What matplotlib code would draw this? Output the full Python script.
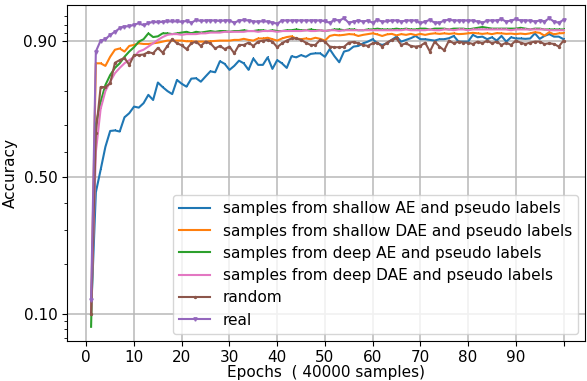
import matplotlib
matplotlib.use("Agg")
import matplotlib.pyplot as plt
import numpy as np
from matplotlib.ticker import FixedLocator, NullFormatter

epochs = list(range(1, 101))

shallow_ae = [
    0.10, 0.44, 0.53, 0.62, 0.678, 0.68, 0.676, 0.724, 0.737, 0.757,
    0.754, 0.767, 0.79, 0.776, 0.821, 0.81, 0.80, 0.792, 0.827, 0.818,
    0.811, 0.83, 0.831, 0.823, 0.835, 0.846, 0.844, 0.866, 0.861, 0.849,
    0.857, 0.867, 0.862, 0.849, 0.871, 0.859, 0.859, 0.873, 0.851, 0.868,
    0.862, 0.853, 0.875, 0.873, 0.877, 0.874, 0.879, 0.880, 0.880, 0.874,
    0.887, 0.875, 0.864, 0.883, 0.885, 0.891, 0.892, 0.896, 0.8985, 0.902,
    0.896, 0.8935, 0.896, 0.901, 0.9056, 0.8985, 0.901, 0.9034, 0.9065, 0.902,
    0.902, 0.901, 0.900, 0.902, 0.902, 0.9034, 0.9065, 0.8985, 0.8985, 0.8985,
    0.908, 0.9047, 0.9056, 0.902, 0.9047, 0.900, 0.9065, 0.8985, 0.9047, 0.903,
    0.903, 0.9025, 0.903, 0.910, 0.9025, 0.9065, 0.909, 0.9056, 0.9056, 0.902,
]

shallow_dae = [
    0.10, 0.862, 0.862, 0.857, 0.874, 0.886, 0.888, 0.883, 0.892, 0.8935,
    0.896, 0.895, 0.895, 0.896, 0.897, 0.8985, 0.900, 0.900, 0.900, 0.900,
    0.899, 0.899, 0.8985, 0.8985, 0.8985, 0.899, 0.8995, 0.900, 0.900, 0.900,
    0.901, 0.901, 0.9025, 0.901, 0.900, 0.903, 0.903, 0.904, 0.902, 0.900,
    0.903, 0.905, 0.906, 0.903, 0.902, 0.903, 0.902, 0.904, 0.9025, 0.900,
    0.9065, 0.908, 0.9073, 0.908, 0.909, 0.9086, 0.9065, 0.908, 0.909, 0.910,
    0.9086, 0.9065, 0.9086, 0.9093, 0.9073, 0.909, 0.908, 0.9093, 0.9077, 0.9093,
    0.908, 0.9093, 0.910, 0.9093, 0.910, 0.9093, 0.910, 0.909, 0.9093, 0.910,
    0.9107, 0.910, 0.9093, 0.910, 0.909, 0.9103, 0.910, 0.9093, 0.9097, 0.909,
    0.9097, 0.909, 0.910, 0.9115, 0.9107, 0.907, 0.9115, 0.9086, 0.910, 0.9103,
]

deep_ae = [
    0.083, 0.70, 0.77, 0.815, 0.838, 0.853, 0.862, 0.874, 0.883, 0.890,
    0.8985, 0.902, 0.910, 0.905, 0.906, 0.910, 0.910, 0.909, 0.910, 0.911,
    0.912, 0.910, 0.912, 0.911, 0.912, 0.913, 0.912, 0.913, 0.913, 0.912,
    0.913, 0.913, 0.914, 0.913, 0.913, 0.914, 0.914, 0.913, 0.914, 0.913,
    0.913, 0.914, 0.914, 0.915, 0.914, 0.914, 0.915, 0.914, 0.914, 0.913,
    0.914, 0.915, 0.915, 0.914, 0.915, 0.915, 0.914, 0.914, 0.915, 0.915,
    0.916, 0.915, 0.915, 0.915, 0.916, 0.915, 0.916, 0.915, 0.915, 0.916,
    0.916, 0.915, 0.916, 0.916, 0.916, 0.915, 0.916, 0.916, 0.916, 0.915,
    0.916, 0.917, 0.918, 0.917, 0.916, 0.916, 0.916, 0.916, 0.916, 0.916,
    0.917, 0.916, 0.915, 0.916, 0.916, 0.915, 0.915, 0.915, 0.915, 0.915,
]

deep_dae = [
    0.10, 0.60, 0.75, 0.80, 0.823, 0.842, 0.853, 0.862, 0.868, 0.874,
    0.883, 0.886, 0.891, 0.896, 0.901, 0.905, 0.908, 0.909, 0.909, 0.908,
    0.909, 0.909, 0.909, 0.910, 0.910, 0.911, 0.911, 0.911, 0.912, 0.912,
    0.912, 0.912, 0.912, 0.913, 0.913, 0.912, 0.913, 0.913, 0.913, 0.912,
    0.913, 0.913, 0.913, 0.913, 0.913, 0.914, 0.913, 0.913, 0.914, 0.913,
    0.914, 0.914, 0.913, 0.914, 0.914, 0.914, 0.914, 0.914, 0.914, 0.914,
    0.914, 0.914, 0.914, 0.914, 0.914, 0.914, 0.915, 0.914, 0.914, 0.914,
    0.914, 0.915, 0.914, 0.914, 0.915, 0.915, 0.914, 0.915, 0.915, 0.914,
    0.915, 0.915, 0.915, 0.915, 0.915, 0.915, 0.915, 0.915, 0.914, 0.915,
    0.915, 0.915, 0.915, 0.915, 0.915, 0.915, 0.914, 0.914, 0.914, 0.914,
]

random_labels = [
    0.10, 0.671, 0.81, 0.81, 0.819, 0.863, 0.868, 0.872, 0.859, 0.877,
    0.877, 0.878, 0.882, 0.88, 0.889, 0.881, 0.892, 0.902, 0.896, 0.893,
    0.887, 0.896, 0.8985, 0.892, 0.8985, 0.896, 0.888, 0.892, 0.887, 0.891,
    0.880, 0.8935, 0.8935, 0.897, 0.892, 0.8985, 0.900, 0.901, 0.8985, 0.890,
    0.896, 0.900, 0.903, 0.903, 0.901, 0.897, 0.8935, 0.8935, 0.901, 0.8985,
    0.891, 0.890, 0.890, 0.8905, 0.897, 0.898, 0.896, 0.8935, 0.892, 0.896,
    0.897, 0.891, 0.897, 0.901, 0.903, 0.8935, 0.896, 0.892, 0.891, 0.892,
    0.897, 0.883, 0.8985, 0.891, 0.885, 0.900, 0.896, 0.8985, 0.897, 0.897,
    0.895, 0.8985, 0.896, 0.900, 0.896, 0.8985, 0.8935, 0.897, 0.8935, 0.900,
    0.897, 0.895, 0.897, 0.8985, 0.8985, 0.895, 0.896, 0.895, 0.891, 0.900,
]

real = [
    0.122, 0.883, 0.900, 0.902, 0.908, 0.912, 0.9165, 0.9185, 0.919, 0.9205,
    0.9225, 0.920, 0.9225, 0.924, 0.9235, 0.924, 0.9245, 0.9245, 0.9245, 0.924,
    0.925, 0.923, 0.926, 0.925, 0.9255, 0.9255, 0.9255, 0.925, 0.9255, 0.9255,
    0.923, 0.9255, 0.926, 0.9255, 0.9243, 0.9243, 0.9247, 0.9243, 0.923, 0.922,
    0.9255, 0.9255, 0.9255, 0.9255, 0.9255, 0.9255, 0.9255, 0.9255, 0.9255, 0.9247,
    0.923, 0.9263, 0.9255, 0.928, 0.923, 0.9243, 0.9255, 0.9243, 0.9255, 0.923,
    0.9263, 0.9243, 0.9247, 0.9255, 0.9255, 0.9243, 0.9255, 0.9255, 0.9255, 0.9225,
    0.9243, 0.9263, 0.923, 0.923, 0.9255, 0.9263, 0.9255, 0.9255, 0.9255, 0.9255,
    0.9255, 0.9243, 0.923, 0.9255, 0.9255, 0.9255, 0.927, 0.9243, 0.9255, 0.927,
    0.9255, 0.9255, 0.9255, 0.9243, 0.9255, 0.9243, 0.928, 0.9243, 0.923, 0.9263,
]

labels = [
    "samples from shallow AE and pseudo labels",
    "samples from shallow DAE and pseudo labels",
    "samples from deep AE and pseudo labels",
    "samples from deep DAE and pseudo labels",
    "random",
    "real",
]
series = [shallow_ae, shallow_dae, deep_ae, deep_dae, random_labels, real]
colors = ["#1f77b4", "#ff7f0e", "#2ca02c", "#e377c2", "#8c564b", "#9467bd"]
markers = [",", ",", ",", ",", ".", "v"]
msizes = [2, 2, 2, 2, 2.8, 2.4]

x_ticks = list(range(0, 101, 10))
x_ticklabels = [str(t) for t in range(0, 100, 10)] + [""]
y_ticks = [0.1, 0.5, 0.9]
y_ticklabels = ["0.10", "0.50", "0.90"]
y_minor = [0.07, 0.08, 0.09, 0.2, 0.3, 0.4, 0.6, 0.7, 0.8, 0.91, 0.92, 0.93]

fig = plt.figure(figsize=(5.87, 3.81), dpi=100)
ax = fig.add_axes([0.1141, 0.1058, 0.9966 - 0.1141, 0.9869 - 0.1058])

for vals, lab, c, m, ms in zip(series, labels, colors, markers, msizes):
    ax.plot(epochs, vals, color=c, marker=m, markersize=ms, linewidth=1.5, label=lab)

ax.set_yscale("logit")
ax.set_ylim(0.0675, 0.941)
ax.set_xlim(-4.05, 104.5)
ax.set_yticks(y_ticks)
ax.set_yticklabels(y_ticklabels)
ax.yaxis.set_minor_locator(FixedLocator(y_minor))
ax.yaxis.set_minor_formatter(NullFormatter())
ax.set_xticks(x_ticks)
ax.set_xticklabels(x_ticklabels)
ax.tick_params(axis="both", which="major", labelsize=11)
ax.grid(True, which="major", color="#b8b8b8", linewidth=1.1)
ax.set_axisbelow(True)

ax.set_xlabel("Epochs  ( 40000 samples)", fontsize=11, labelpad=0)
ax.set_ylabel("Accuracy", fontsize=11)

ax.legend(loc="lower right", fontsize=11.1, handlelength=2.0,
          labelspacing=0.47, borderaxespad=0.45)

fig.savefig("out.png", dpi=100)
